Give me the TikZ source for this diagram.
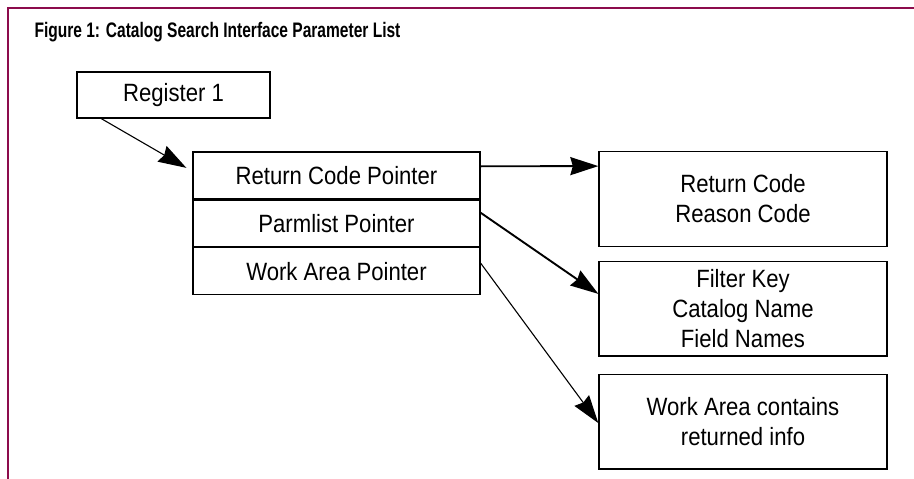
\documentclass[tikz,border=0pt]{standalone}
\usepackage{fontspec}
\setmainfont{Liberation Sans}
\newfontfamily\bodyfont[FakeStretch=0.885]{Liberation Sans}
\newfontfamily\titlefont[FakeStretch=0.74]{Liberation Sans}
\usetikzlibrary{arrows.meta}
\usetikzlibrary{positioning}
\definecolor{framered}{RGB}{140,12,76}

\begin{document}
\begin{tikzpicture}[
x=1pt, y=-1pt,
FrameLine/.style={draw=framered,line width=2pt},
BoxText/.style={font=\bodyfont\fontsize{25}{30}\selectfont,align=center},
RegBox/.style={draw,line width=1.3pt,BoxText,minimum width=193pt,minimum height=46pt,inner sep=0pt},
PtrRow/.style={draw,line width=1.3pt,BoxText,minimum width=287pt,minimum height=46.6pt,inner sep=0pt},
DataBox/.style={draw,line width=1.3pt,BoxText,minimum width=288pt,minimum height=94.5pt,inner sep=0pt},
ThickArrow/.style={-{Stealth[length=28pt, width=18pt, inset=2.5pt]},line width=1.9pt},
ThinArrow/.style={-{Stealth[length=28pt, width=18pt, inset=2.5pt]},line width=1.1pt}
]

\useasboundingbox (0,0) rectangle (914,479);

% frame and title
\draw[FrameLine] (8,479) -- (8,8) -- (914,8);
\node[anchor=base west,font=\titlefont\bfseries\fontsize{21}{22}\selectfont] (title) at (31,37) {Figure 1: Catalog Search Interface Parameter List};

% register and parameter list
\node[RegBox] (reg) at (173.5,95) {Register 1};

\node[PtrRow] (rcp) at (336.5,175.3) {Return Code Pointer};
\node[PtrRow, below=0pt of rcp] (plp) {Parmlist Pointer};
\node[PtrRow, below=0pt of plp] (wap) {Work Area Pointer};

% areas pointed to
\node[DataBox] (rc) at (743,199) {Return Code\\Reason Code};
\node[DataBox, below=14pt of rc] (fk) {Filter Key\\Catalog Name\\Field Names};
\node[DataBox, below=17pt of fk] (wa) {Work Area contains\\returned info};

% pointers
\draw[ThinArrow] ([xshift=25pt]reg.south west) -- ([xshift=-6pt,yshift=-16.5pt]rcp.north west);

\draw[ThickArrow] ([yshift=9pt]rcp.east) -- ([yshift=-15pt]rc.north west);

\draw[ThickArrow] ([yshift=-13.5pt]plp.north east) -- ([yshift=-33pt]fk.north west);

\draw[ThinArrow] ([yshift=-16pt]wap.north east) -- ([yshift=-1.5pt]wa.west);

\end{tikzpicture}
\end{document}
